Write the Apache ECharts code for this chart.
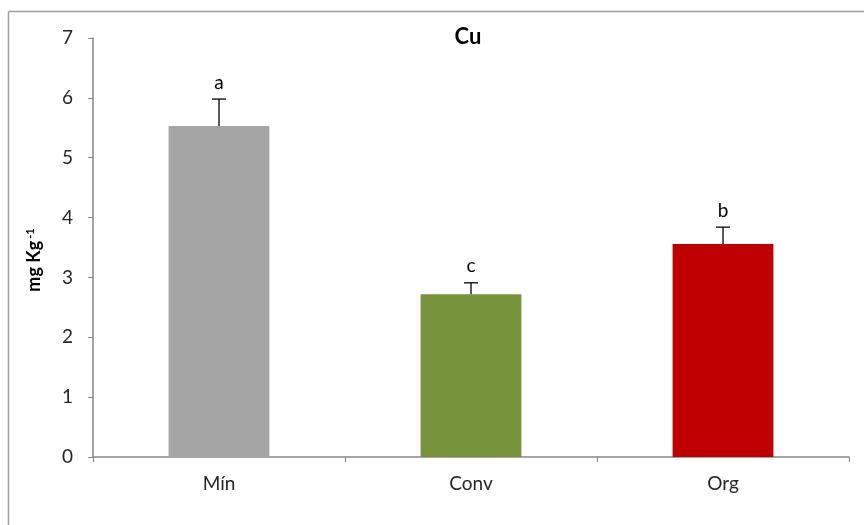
<!DOCTYPE html>
<html><head><meta charset="utf-8">
<script src="https://cdn.jsdelivr.net/npm/echarts@6/dist/echarts.min.js"></script>
<style>html,body{margin:0;padding:0;background:#fff}#c{width:864px;height:525px}</style>
</head><body><div id="c"></div>
<script>
const categories = ['Mín', 'Conv', 'Org'];
const values = [5.53, 2.72, 3.56];
const errors = [0.45, 0.19, 0.28];
const letters = ['a', 'c', 'b'];
const colors = ['#A5A5A5', '#77933C', '#C00000'];
const yTicks = [0, 1, 2, 3, 4, 5, 6, 7];

const chart = echarts.init(document.getElementById('c'));
const font = 'Lato, "Open Sans", "Liberation Sans", sans-serif';
chart.setOption({
  animation: false,
  backgroundColor: '#fff',
  graphic: [
    { type: 'line', shape: { x1: 8.5, y1: 11.5, x2: 864, y2: 11.5 }, style: { stroke: '#a0a0a0', lineWidth: 1.5 }, silent: true },
    { type: 'line', shape: { x1: 8.5, y1: 11.5, x2: 8.5, y2: 525 }, style: { stroke: '#a0a0a0', lineWidth: 1.5 }, silent: true },
    { type: 'text', x: 468, y: 37, style: { text: 'Cu', align: 'center', verticalAlign: 'middle', fontFamily: font, fontSize: 22, fontWeight: 'bold', fill: '#000' }, silent: true },
    { type: 'text', x: 34.5, y: 260, rotation: Math.PI / 2,
      style: {
        text: '{m|mg Kg}{s|-1}', align: 'center', verticalAlign: 'middle',
        rich: {
          m: { fontFamily: font, fontSize: 18, fontWeight: 'bold', fill: '#000' },
          s: { fontFamily: font, fontSize: 11, fontWeight: 'bold', fill: '#000', verticalAlign: 'top', padding: [0, 0, 9, 2] }
        }
      }, silent: true }
  ],
  grid: { left: 93, right: 15, top: 38, bottom: 68 },
  xAxis: {
    type: 'category', data: categories,
    axisLine: { lineStyle: { color: '#868686', width: 1.5 } },
    axisTick: { show: true, length: 5, lineStyle: { color: '#868686' } },
    axisLabel: { fontFamily: font, fontSize: 19, color: '#262626', margin: 17 }
  },
  yAxis: {
    type: 'value', min: yTicks[0], max: yTicks[yTicks.length - 1], interval: 1,
    splitLine: { show: false },
    axisLine: { show: true, lineStyle: { color: '#868686', width: 1.5 } },
    axisTick: { show: true, length: 5, lineStyle: { color: '#868686' } },
    axisLabel: { fontFamily: font, fontSize: 19, color: '#262626', margin: 20 }
  },
  series: [{
    type: 'bar', barWidth: '40%',
    data: values.map((v, i) => ({ value: v, itemStyle: { color: colors[i] } }))
  }, {
    type: 'custom',
    data: values.map((v, i) => [i, v, v + errors[i]]),
    renderItem: function (params, api) {
      const base = api.coord([api.value(0), api.value(1)]);
      const top = api.coord([api.value(0), api.value(2)]);
      const idx = params.dataIndex;
      return {
        type: 'group', children: [
          { type: 'line', shape: { x1: base[0], y1: base[1], x2: top[0], y2: top[1] }, style: { stroke: '#000', lineWidth: 1.3 } },
          { type: 'line', shape: { x1: top[0] - 7, y1: top[1], x2: top[0] + 7, y2: top[1] }, style: { stroke: '#000', lineWidth: 1.3 } },
          { type: 'text', style: { text: letters[idx], x: top[0], y: top[1] - 7, align: 'center', verticalAlign: 'bottom', fontFamily: font, fontSize: 19, fill: '#000' } }
        ]
      };
    },
    z: 5
  }]
});
</script></body></html>
